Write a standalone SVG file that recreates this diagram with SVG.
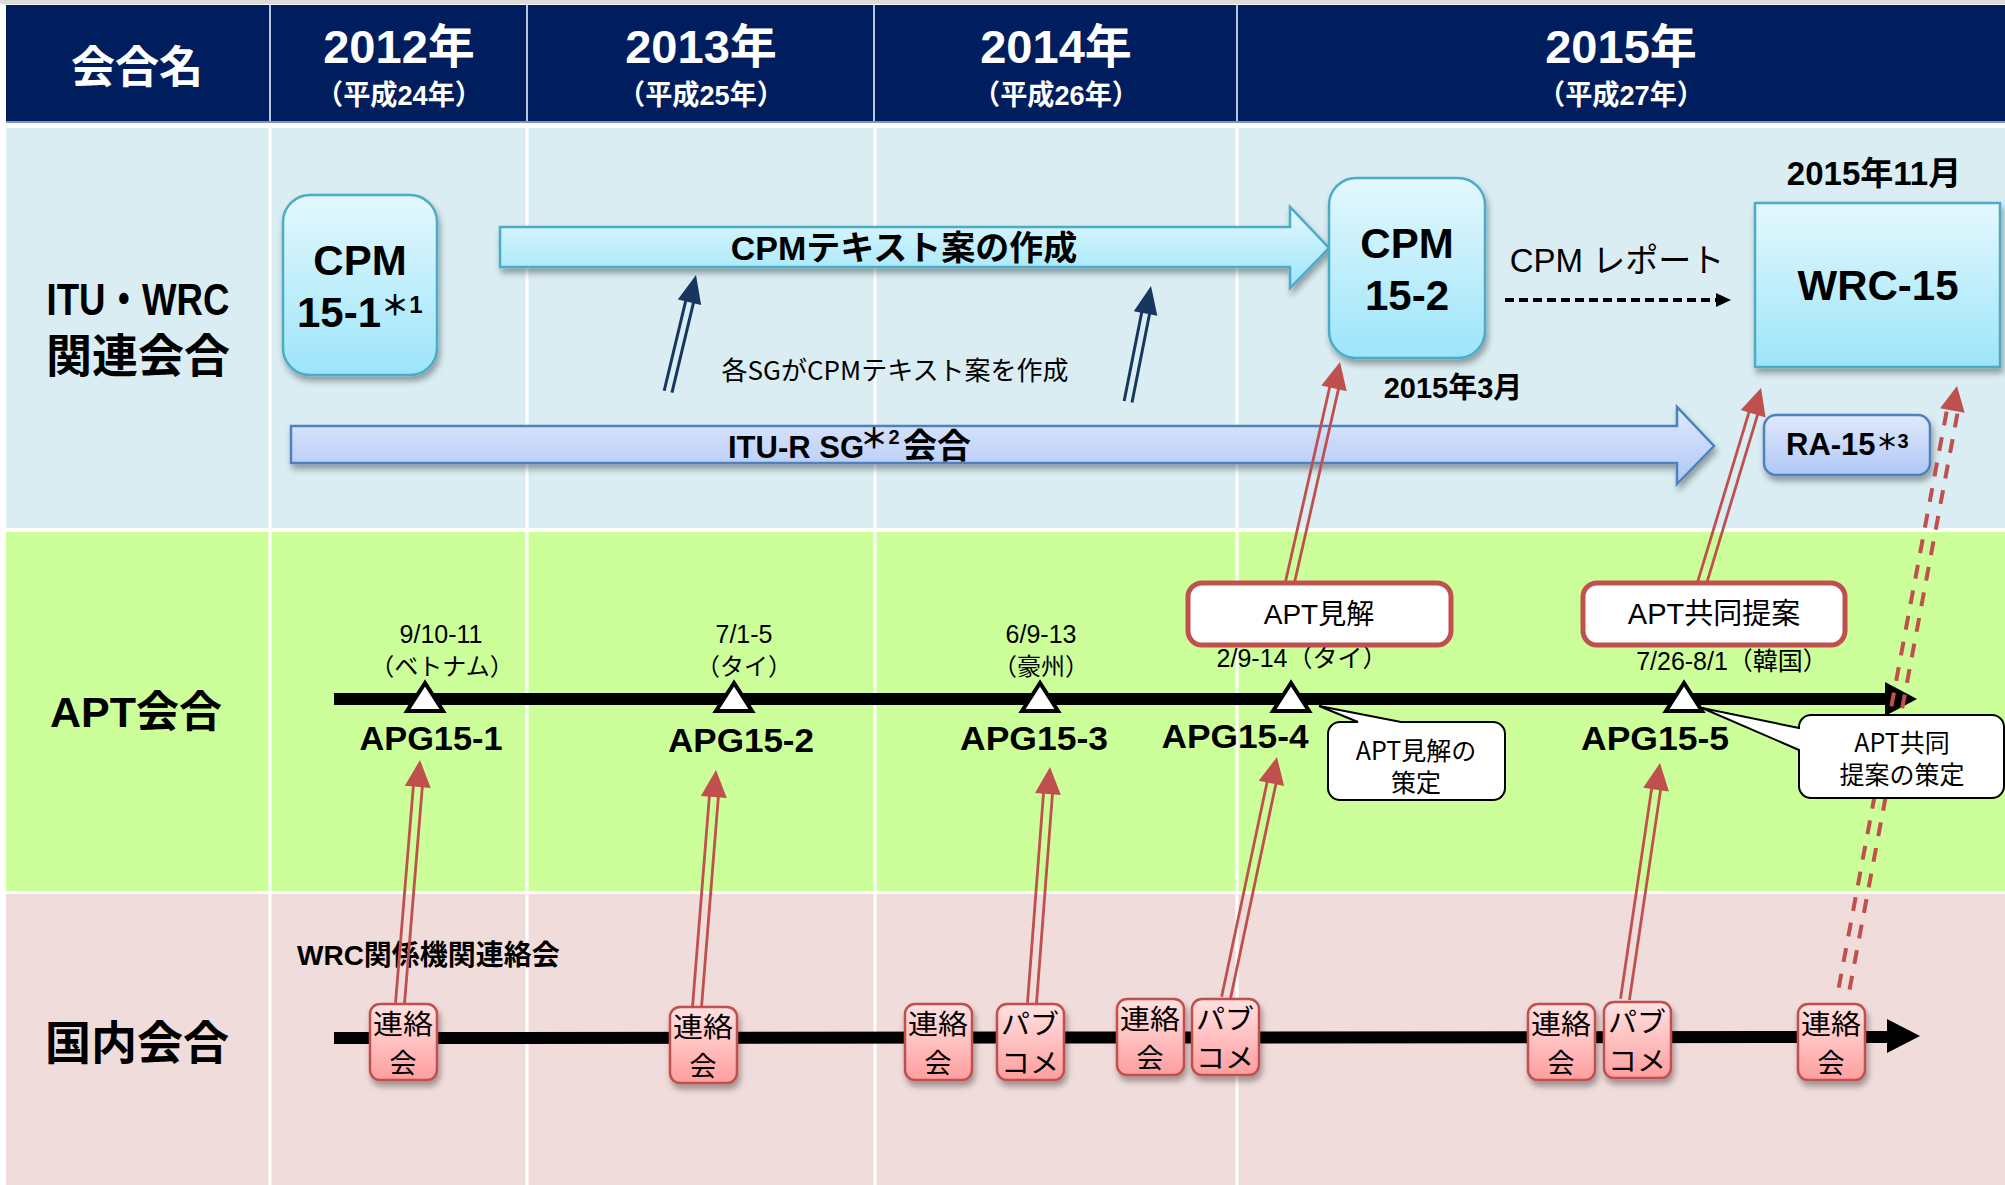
<svg xmlns="http://www.w3.org/2000/svg" width="2005" height="1185" viewBox="0 0 2005 1185">
<defs>
<style>
.b{font-family:"Liberation Sans","Noto Sans CJK JP",sans-serif;font-weight:700;fill:#000}
.r{font-family:"Liberation Sans","Noto Sans CJK JP",sans-serif;font-weight:400;fill:#000}
.jp{font-family:"Noto Sans CJK JP",sans-serif;font-weight:400;fill:#000}
.jpb{font-family:"Noto Sans CJK JP",sans-serif;font-weight:700;fill:#000}
.w{fill:#fff}
.m{text-anchor:middle}
.hd{stroke:#B8C4DC;stroke-width:2}
.vl{stroke:#fff;stroke-width:3}
.cy{fill:url(#gCyan);stroke:#4BACC6;stroke-width:2.5}
.bl{fill:url(#gBlue);stroke:#4F81BD;stroke-width:2.5}
.pk{fill:url(#gPink);stroke:#C0504D;stroke-width:2.5}
.rb{fill:#fff;stroke:#C0504D;stroke-width:5}
.co{fill:#fff;stroke:#000;stroke-width:2}
.tri{fill:#fff;stroke:#000;stroke-width:4;stroke-linejoin:miter}
.rh{fill:#C0504D}
.rs{stroke:#C0504D;stroke-width:2.8;fill:none}
.rd{stroke:#C0504D;stroke-width:4;fill:none;stroke-dasharray:14 12}
.nh{fill:#17375E}
.ns{stroke:#17375E;stroke-width:3;fill:none}
.tl{stroke:#000;stroke-width:12}
.bx{font-family:"Noto Sans CJK JP",sans-serif;font-weight:400;fill:#000;font-size:27px;text-anchor:middle}
</style>
<linearGradient id="gCyan" x1="0" y1="0" x2="0" y2="1"><stop offset="0" stop-color="#E4F8FD"/><stop offset="1" stop-color="#9DE5FA"/></linearGradient>
<linearGradient id="gBlue" x1="0" y1="0" x2="0" y2="1"><stop offset="0" stop-color="#E0E9FB"/><stop offset="1" stop-color="#AFC7F6"/></linearGradient>
<linearGradient id="gPink" x1="0" y1="0" x2="0" y2="1"><stop offset="0" stop-color="#FFE2E2"/><stop offset="1" stop-color="#FF9E9E"/></linearGradient>
<filter id="sh" x="-20%" y="-20%" width="140%" height="150%"><feDropShadow dx="2" dy="5" stdDeviation="3" flood-color="#000" flood-opacity="0.35"/></filter>
</defs>

<rect width="2005" height="1185" fill="#fff"/>
<rect x="0" y="0" width="2005" height="4" fill="#dcdcdc"/>

<g id="header">
<rect x="6" y="5" width="1999" height="116" fill="#001E5E"/>
<rect x="6" y="121" width="1999" height="2" fill="#7F93C0"/>
<line class="hd" x1="270" y1="5" x2="270" y2="121"/>
<line class="hd" x1="527" y1="5" x2="527" y2="121"/>
<line class="hd" x1="874" y1="5" x2="874" y2="121"/>
<line class="hd" x1="1237" y1="5" x2="1237" y2="121"/>
<text class="b w m" x="137" y="83" font-size="44">会合名</text>
<text class="b w m" x="399" y="63" font-size="47">2012年</text>
<text class="b w m" x="399" y="105" font-size="28" textLength="166" lengthAdjust="spacingAndGlyphs">（平成24年）</text>
<text class="b w m" x="701" y="63" font-size="47">2013年</text>
<text class="b w m" x="701" y="105" font-size="28" textLength="166" lengthAdjust="spacingAndGlyphs">（平成25年）</text>
<text class="b w m" x="1056" y="63" font-size="47">2014年</text>
<text class="b w m" x="1056" y="105" font-size="28" textLength="166" lengthAdjust="spacingAndGlyphs">（平成26年）</text>
<text class="b w m" x="1621" y="63" font-size="47">2015年</text>
<text class="b w m" x="1621" y="105" font-size="28" textLength="166" lengthAdjust="spacingAndGlyphs">（平成27年）</text>
</g>

<g id="rows">
<rect x="6" y="128" width="1999" height="400" fill="#DAEDF3"/>
<rect x="6" y="532" width="1999" height="359" fill="#CCFF99"/>
<rect x="6" y="894" width="1999" height="291" fill="#F0DCDB"/>
<line class="vl" x1="270" y1="128" x2="270" y2="1185"/>
<line class="vl" x1="527" y1="128" x2="527" y2="1185"/>
<line class="vl" x1="875" y1="128" x2="875" y2="1185"/>
<line class="vl" x1="1237" y1="128" x2="1237" y2="1185"/>
<text class="b m" x="138" y="315" font-size="44" textLength="183" lengthAdjust="spacingAndGlyphs">ITU・WRC</text>
<text class="b m" x="138" y="372" font-size="46">関連会合</text>
<text class="b m" x="136" y="727" font-size="43">APT会合</text>
<text class="b m" x="137" y="1059" font-size="46">国内会合</text>
</g>

<g id="cpm15-1">
<rect class="cy" x="283" y="195" width="154" height="180" rx="27" filter="url(#sh)"/>
<text class="b m" x="360" y="275" font-size="42">CPM</text>
<text class="b" x="297" y="327" font-size="42">15-1</text>
<text class="jpb m" x="395" y="316" font-size="28">＊</text>
<text class="b m" x="416" y="313" font-size="24">1</text>
</g>

<g id="cpm-text-arrow">
<path class="cy" d="M500,227 H1290 V207 L1329,248 L1290,288 V267 H500 Z" filter="url(#sh)"/>
<text class="b m" x="904" y="260" font-size="34">CPMテキスト案の作成</text>
</g>

<g id="itu-r-sg-arrow">
<path class="bl" d="M291,426 H1677 V407 L1714,446 L1677,484 V463 H291 Z" filter="url(#sh)"/>
<text class="b" x="728" y="458" font-size="31">ITU-R SG</text>
<text class="jpb m" x="874" y="449" font-size="28">＊</text>
<text class="b m" x="894" y="444" font-size="20">2</text>
<text class="b" x="903" y="458" font-size="34">会合</text>
</g>

<text class="jp m" x="895" y="380" font-size="26">各SGがCPMテキスト案を作成</text>

<g id="cpm15-2">
<rect class="cy" x="1329" y="178" width="156" height="180" rx="27" filter="url(#sh)"/>
<text class="b m" x="1407" y="258" font-size="42">CPM</text>
<text class="b m" x="1407" y="310" font-size="42">15-2</text>
</g>
<text class="b m" x="1453" y="398" font-size="29">2015年3月</text>
<text class="r m" x="1617" y="272" font-size="33">CPM レポート</text>
<text class="b m" x="1874" y="185" font-size="33">2015年11月</text>

<g id="wrc15">
<rect class="cy" x="1755" y="203" width="245" height="164" filter="url(#sh)"/>
<text class="b m" x="1878" y="300" font-size="42">WRC-15</text>
</g>

<g id="ra15">
<rect class="bl" x="1764" y="415" width="166" height="60" rx="12" filter="url(#sh)"/>
<text class="b" x="1786" y="455" font-size="31">RA-15</text>
<text class="jpb m" x="1887" y="450" font-size="22">＊</text>
<text class="b m" x="1903" y="448" font-size="20">3</text>
</g>

<g id="apt-timeline">
<line class="tl" x1="334" y1="699" x2="1887" y2="699"/>
<polygon points="1885,682 1917,699 1885,716" fill="#000"/>
<polygon class="tri" points="425,683 407,711 443,711"/>
<polygon class="tri" points="734,683 716,711 752,711"/>
<polygon class="tri" points="1040,683 1022,711 1058,711"/>
<polygon class="tri" points="1291,683 1273,711 1309,711"/>
<polygon class="tri" points="1684,683 1666,711 1702,711"/>
</g>

<g id="apt-labels">
<text class="r m" x="441" y="643" font-size="25">9/10-11</text>
<text class="jp m" x="442" y="675" font-size="24">（ベトナム）</text>
<text class="r m" x="744" y="643" font-size="25">7/1-5</text>
<text class="jp m" x="744" y="675" font-size="24">（タイ）</text>
<text class="r m" x="1041" y="643" font-size="25">6/9-13</text>
<text class="jp m" x="1041" y="675" font-size="24">（豪州）</text>
<text class="r m" x="1302" y="667" font-size="25">2/9-14（タイ）</text>
<text class="r m" x="1732" y="670" font-size="25">7/26-8/1（韓国）</text>
<text class="b m" x="431" y="750" font-size="33" textLength="143" lengthAdjust="spacingAndGlyphs">APG15-1</text>
<text class="b m" x="741" y="752" font-size="33" textLength="146" lengthAdjust="spacingAndGlyphs">APG15-2</text>
<text class="b m" x="1034" y="750" font-size="33" textLength="148" lengthAdjust="spacingAndGlyphs">APG15-3</text>
<text class="b m" x="1235" y="748" font-size="33" textLength="147" lengthAdjust="spacingAndGlyphs">APG15-4</text>
<text class="b m" x="1655" y="750" font-size="33" textLength="148" lengthAdjust="spacingAndGlyphs">APG15-5</text>
</g>

<g id="apt-view">
<rect class="rb" x="1188" y="583" width="263" height="62" rx="14"/>
<text class="r m" x="1319" y="624" font-size="28">APT見解</text>
</g>
<g id="apt-joint">
<rect class="rb" x="1583" y="583" width="262" height="62" rx="14"/>
<text class="r m" x="1714" y="624" font-size="29">APT共同提案</text>
</g>

<g id="domestic-timeline">
<line class="tl" x1="334" y1="1038" x2="1889" y2="1037"/>
<polygon points="1887,1019 1920,1036 1887,1053" fill="#000"/>
</g>
<text class="b" x="297" y="965" font-size="28">WRC関係機関連絡会</text>

<g id="connectors">
<line x1="1505" y1="300" x2="1718" y2="300" stroke="#000" stroke-width="4" stroke-dasharray="9 5"/>
<polygon points="1716,293 1731,300 1716,307" fill="#000"/>
<g transform="translate(696,275) rotate(13.46)"><polygon class="nh" points="0,0 -12,28 12,28"/><path class="ns" d="M-4,27 V120 M4,27 V120"/></g>
<g transform="translate(1151,286) rotate(11.2)"><polygon class="nh" points="0,0 -12,28 12,28"/><path class="ns" d="M-4,27 V118 M4,27 V118"/></g>
<g transform="translate(1340,362) rotate(12.8)"><polygon class="rh" points="0,0 -13,27 13,27"/><path class="rs" d="M-4.5,26 V226 M4.5,26 V226"/></g>
<g transform="translate(1761,388) rotate(16.83)"><polygon class="rh" points="0,0 -13,27 13,27"/><path class="rs" d="M-4.5,26 V204 M4.5,26 V204"/></g>
<g transform="translate(420,760) rotate(4.7)"><polygon class="rh" points="0,0 -13,27 13,27"/><path class="rs" d="M-4.5,26 V244 M4.5,26 V244"/></g>
<g transform="translate(716,770) rotate(4.58)"><polygon class="rh" points="0,0 -13,27 13,27"/><path class="rs" d="M-4.5,26 V238 M4.5,26 V238"/></g>
<g transform="translate(1050,767) rotate(4.36)"><polygon class="rh" points="0,0 -13,27 13,27"/><path class="rs" d="M-4.5,26 V237 M4.5,26 V237"/></g>
<g transform="translate(1277,757) rotate(11.95)"><polygon class="rh" points="0,0 -13,27 13,27"/><path class="rs" d="M-4.5,26 V246 M4.5,26 V246"/></g>
<g transform="translate(1660,763) rotate(8.43)"><polygon class="rh" points="0,0 -13,27 13,27"/><path class="rs" d="M-4.5,26 V239 M4.5,26 V239"/></g>
<g transform="translate(1957,386) rotate(10.61)"><polygon class="rh" points="0,0 -12.5,25 12.5,25"/><path class="rd" d="M-5.5,27 V625 M5.5,27 V625"/></g>
</g>

<g id="callout-view">
<path class="co" d="M1340,722 H1358 L1319,706 L1401,722 H1493 A12,12 0 0 1 1505,734 V788 A12,12 0 0 1 1493,800 H1340 A12,12 0 0 1 1328,788 V734 A12,12 0 0 1 1340,722 Z"/>
<text class="jp m" x="1416" y="760" font-size="25">APT見解の</text>
<text class="jp m" x="1416" y="792" font-size="25">策定</text>
</g>
<g id="callout-joint">
<path class="co" d="M1811,715 H1992 A12,12 0 0 1 2004,727 V786 A12,12 0 0 1 1992,798 H1811 A12,12 0 0 1 1799,786 V750 L1702,708 L1799,728 V727 A12,12 0 0 1 1811,715 Z"/>
<text class="jp m" x="1902" y="752" font-size="25">APT共同</text>
<text class="jp m" x="1902" y="784" font-size="25">提案の策定</text>
</g>

<g id="liaison-1"><rect class="pk" x="370" y="1004" width="67" height="76" rx="10" filter="url(#sh)"/><text class="bx" x="403" y="1034" textLength="60" lengthAdjust="spacingAndGlyphs">連絡</text><text class="bx" x="403" y="1073">会</text></g>
<g id="liaison-2"><rect class="pk" x="670" y="1007" width="67" height="76" rx="10" filter="url(#sh)"/><text class="bx" x="703" y="1037" textLength="60" lengthAdjust="spacingAndGlyphs">連絡</text><text class="bx" x="703" y="1076">会</text></g>
<g id="liaison-3"><rect class="pk" x="905" y="1004" width="67" height="76" rx="10" filter="url(#sh)"/><text class="bx" x="938" y="1034" textLength="60" lengthAdjust="spacingAndGlyphs">連絡</text><text class="bx" x="938" y="1073">会</text></g>
<g id="pubcom-1"><rect class="pk" x="997" y="1004" width="67" height="76" rx="10" filter="url(#sh)"/><text class="bx" x="1030" y="1034" textLength="58" lengthAdjust="spacingAndGlyphs">パブ</text><text class="bx" x="1030" y="1073" textLength="58" lengthAdjust="spacingAndGlyphs">コメ</text></g>
<g id="liaison-4"><rect class="pk" x="1117" y="999" width="67" height="76" rx="10" filter="url(#sh)"/><text class="bx" x="1150" y="1029" textLength="60" lengthAdjust="spacingAndGlyphs">連絡</text><text class="bx" x="1150" y="1068">会</text></g>
<g id="pubcom-2"><rect class="pk" x="1192" y="999" width="67" height="76" rx="10" filter="url(#sh)"/><text class="bx" x="1225" y="1029" textLength="58" lengthAdjust="spacingAndGlyphs">パブ</text><text class="bx" x="1225" y="1068" textLength="58" lengthAdjust="spacingAndGlyphs">コメ</text></g>
<g id="liaison-5"><rect class="pk" x="1528" y="1004" width="67" height="76" rx="10" filter="url(#sh)"/><text class="bx" x="1561" y="1034" textLength="60" lengthAdjust="spacingAndGlyphs">連絡</text><text class="bx" x="1561" y="1073">会</text></g>
<g id="pubcom-3"><rect class="pk" x="1604" y="1002" width="67" height="76" rx="10" filter="url(#sh)"/><text class="bx" x="1637" y="1032" textLength="58" lengthAdjust="spacingAndGlyphs">パブ</text><text class="bx" x="1637" y="1071" textLength="58" lengthAdjust="spacingAndGlyphs">コメ</text></g>
<g id="liaison-6"><rect class="pk" x="1798" y="1004" width="67" height="76" rx="10" filter="url(#sh)"/><text class="bx" x="1831" y="1034" textLength="60" lengthAdjust="spacingAndGlyphs">連絡</text><text class="bx" x="1831" y="1073">会</text></g>
</svg>
